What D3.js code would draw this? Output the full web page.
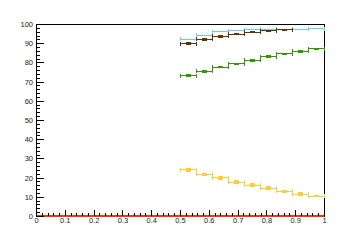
<!DOCTYPE html>
<html lang="en">
<head>
<meta charset="UTF-8">
<title>Histograms</title>
<script src="https://d3js.org/d3.v7.min.js"></script>
<style>
    body { margin: 0; background: #fff; }
    line, rect { shape-rendering: crispEdges; }
    .tick text { font-family: "Liberation Sans", Arial, sans-serif; font-size: 7.5px; fill: #222; }
</style>
</head>
<body>
<svg width="360" height="240"></svg>
<script>
    // bin edges: 9 bins from 0.5 to 1.0
    const binLow = 0.5, binHigh = 1.0, nBins = 9;

    const blueVals   = [92.0, 94.1, 96.0, 96.4, 97.1, 97.2, 97.3, 97.3, 97.4];
    const blueErrs   = [0.3, 0.3, 0.2, 0.2, 0.2, 0.2, 0.2, 0.2, 0.2];
    const brownVals  = [89.7, 92.0, 93.6, 94.6, 95.7, 96.4, 96.9];
    const brownErrs  = [0.5, 0.4, 0.4, 0.3, 0.3, 0.3, 0.3];
    const greenVals  = [73.1, 75.3, 77.6, 79.2, 81.1, 83.0, 84.4, 85.8, 87.0];
    const greenErrs  = [0.4, 0.5, 0.5, 0.4, 0.4, 0.5, 0.4, 0.4, 0.4];
    const yellowVals = [24.0, 21.7, 19.8, 17.7, 16.0, 14.4, 12.8, 11.3, 10.4];
    const yellowErrs = [0.9, 0.5, 0.8, 0.7, 0.8, 0.8, 0.7, 0.8, 0.5];

    const xTicks = [0, 0.1, 0.2, 0.3, 0.4, 0.5, 0.6, 0.7, 0.8, 0.9, 1];
    const yTicks = [0, 10, 20, 30, 40, 50, 60, 70, 80, 90, 100];

    const svg = d3.select("svg");
    const x = d3.scaleLinear().domain([0, 1]).range([36, 324]);
    const y = d3.scaleLinear().domain([0, 100]).range([216, 24]);

    // frame
    svg.append("rect")
        .attr("x", x(0)).attr("y", y(100))
        .attr("width", x(1) - x(0)).attr("height", y(0) - y(100))
        .attr("fill", "none").attr("stroke", "#000").attr("stroke-width", 1);

    // zero line along the bottom
    svg.append("line")
        .attr("x1", x(0)).attr("x2", x(1))
        .attr("y1", y(0)).attr("y2", y(0))
        .attr("stroke", "#ff3300").attr("stroke-width", 1.5);

    // minor ticks
    svg.append("g")
        .attr("transform", `translate(0,${y(0)})`)
        .call(d3.axisBottom(x).tickValues(d3.range(0, 1.0001, 0.02)).tickSize(-3).tickSizeOuter(0).tickFormat(""))
        .call(g => g.select(".domain").remove());
    svg.append("g")
        .attr("transform", `translate(${x(0)},0)`)
        .call(d3.axisLeft(y).tickValues(d3.range(0, 100.001, 2)).tickSize(-4).tickSizeOuter(0).tickFormat(""))
        .call(g => g.select(".domain").remove());

    // major ticks + labels
    svg.append("g")
        .attr("transform", `translate(0,${y(0)})`)
        .call(d3.axisBottom(x).tickValues(xTicks).tickSize(-6).tickSizeOuter(0).tickPadding(2).tickFormat(d3.format("")))
        .call(g => g.select(".domain").remove());
    svg.append("g")
        .attr("transform", `translate(${x(0)},0)`)
        .call(d3.axisLeft(y).tickValues(yTicks).tickSize(-8).tickSizeOuter(0).tickPadding(3).tickFormat(d3.format("")))
        .call(g => g.select(".domain").remove());
    svg.selectAll(".tick line").attr("stroke", "#000");

    const bw = (binHigh - binLow) / nBins;

    function drawHist(vals, errs, color, marker) {
        const g = svg.append("g").attr("stroke", color).attr("fill", color);
        vals.forEach((v, i) => {
            const lo = binLow + i * bw, hi = lo + bw, mid = lo + bw / 2;
            // horizontal bin bar with end caps
            g.append("line").attr("x1", x(lo)).attr("x2", x(hi)).attr("y1", y(v)).attr("y2", y(v));
            g.append("line").attr("x1", x(lo)).attr("x2", x(lo)).attr("y1", y(v) - 2).attr("y2", y(v) + 2);
            g.append("line").attr("x1", x(hi)).attr("x2", x(hi)).attr("y1", y(v) - 2).attr("y2", y(v) + 2);
            // vertical error with caps
            const e = errs[i];
            if (y(v - e) - y(v + e) > 1.2) {
                g.append("line").attr("x1", x(mid)).attr("x2", x(mid)).attr("y1", y(v - e)).attr("y2", y(v + e));
                g.append("line").attr("x1", x(mid) - 2.5).attr("x2", x(mid) + 2.5).attr("y1", y(v - e)).attr("y2", y(v - e));
                g.append("line").attr("x1", x(mid) - 2.5).attr("x2", x(mid) + 2.5).attr("y1", y(v + e)).attr("y2", y(v + e));
            }
            if (marker) {
                g.append("rect").attr("stroke", "none")
                    .attr("x", x(mid) - 2.5).attr("y", y(v) - 1)
                    .attr("width", 5).attr("height", 2);
            }
        });
    }

    drawHist(blueVals, blueErrs, "#66ccff", false);
    drawHist(brownVals, brownErrs, "#663300", true);
    drawHist(greenVals, greenErrs, "#339900", true);
    drawHist(yellowVals, yellowErrs, "#ffcc33", true);
</script>
</body>
</html>
